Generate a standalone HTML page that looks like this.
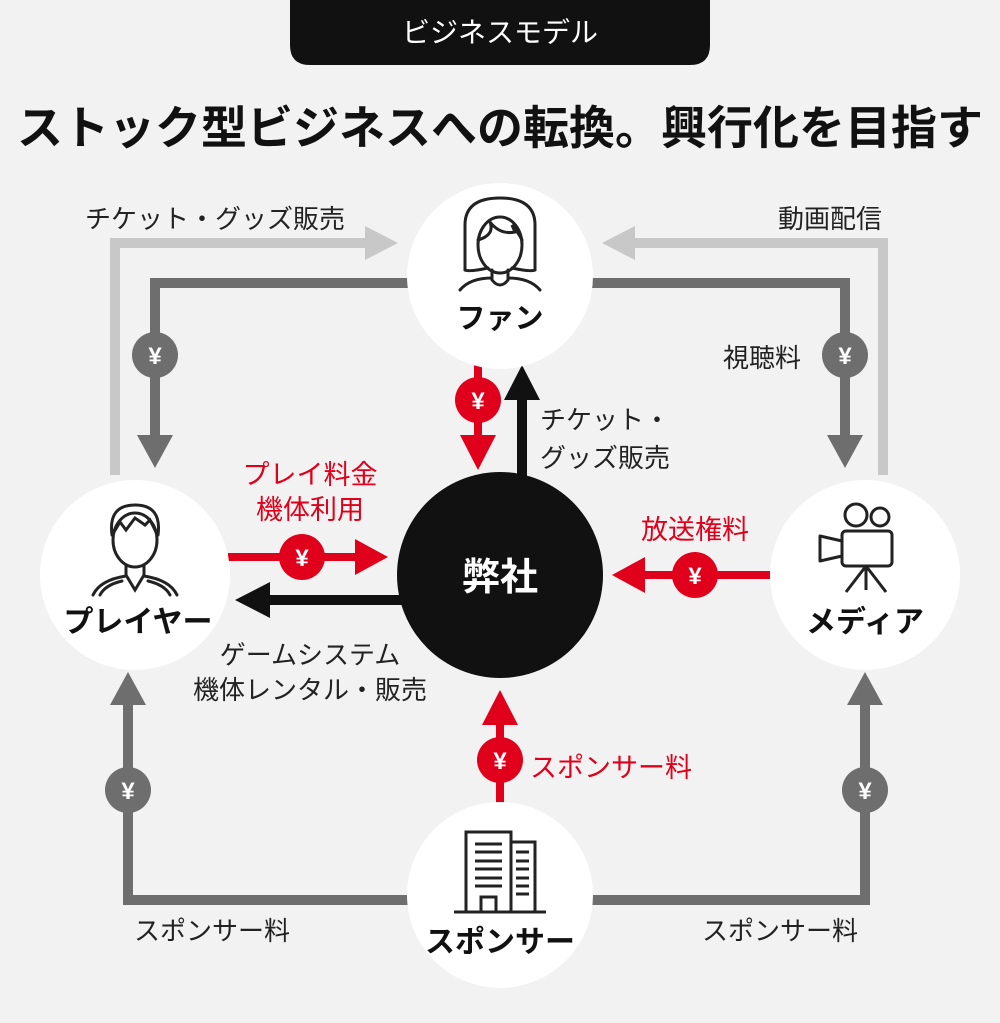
<!DOCTYPE html>
<html><head><meta charset="utf-8"><style>
body{margin:0;background:#f2f2f2;}
svg{display:block;font-family:"Liberation Sans","Noto Sans CJK JP",sans-serif;}
</style></head><body>
<svg width="1000" height="1023" viewBox="0 0 1000 1023" xmlns="http://www.w3.org/2000/svg">
<rect width="1000" height="1023" fill="#f2f2f2"/>
<path d="M290 0H710V45Q710 65 690 65H310Q290 65 290 45Z" fill="#111"/>
<text x="500" y="42" font-size="28" fill="#fff" text-anchor="middle">ビジネスモデル</text>
<text x="500" y="144" font-size="46" font-weight="bold" fill="#111" text-anchor="middle">ストック型ビジネスへの転換。興行化を目指す</text>

<g stroke="#c8c8c8" stroke-width="10" fill="none">
<path d="M115 475V243H370"/><path d="M883 475V243H630"/>
</g>
<polygon points="365,226 398,243 365,260" fill="#c8c8c8"/>
<polygon points="635,226 602,243 635,260" fill="#c8c8c8"/>
<text x="215" y="228" font-size="26" fill="#222" text-anchor="middle">チケット・グッズ販売</text>
<text x="830" y="228" font-size="26" fill="#222" text-anchor="middle">動画配信</text>

<g stroke="#6e6e6e" stroke-width="10" fill="none">
<path d="M410 283H155V440"/><path d="M590 283H845V440"/>
<path d="M410 900H128V700"/><path d="M590 900H865V700"/>
</g>
<g fill="#6e6e6e">
<polygon points="137,435 173,435 155,468"/><polygon points="827,435 863,435 845,468"/>
<polygon points="110,705 146,705 128,672"/><polygon points="847,705 883,705 865,672"/>
<circle cx="155" cy="355" r="23"/><circle cx="845" cy="355" r="23"/>
<circle cx="128" cy="790" r="23"/><circle cx="865" cy="790" r="23"/>
</g>
<text x="762" y="367" font-size="26" fill="#222" text-anchor="middle">視聴料</text>
<text x="212" y="940" font-size="26" fill="#222" text-anchor="middle">スポンサー料</text>
<text x="780" y="940" font-size="26" fill="#222" text-anchor="middle">スポンサー料</text>

<g stroke="#e0001b" stroke-width="8" fill="none">
<path d="M478 360V440"/><path d="M228 557H360"/><path d="M772 575H640"/><path d="M500 805V720"/>
</g>
<g fill="#e0001b">
<polygon points="460,435 496,435 478,470"/>
<polygon points="355,539 355,575 388,557"/>
<polygon points="645,557 645,593 612,575"/>
<polygon points="482,725 518,725 500,690"/>
<circle cx="478" cy="400" r="23"/><circle cx="302" cy="557" r="23"/>
<circle cx="695" cy="575" r="23"/><circle cx="500" cy="760" r="23"/>
</g>
<text x="310" y="484" font-size="27" fill="#e0001b" text-anchor="middle">プレイ料金</text>
<text x="310" y="519" font-size="27" fill="#e0001b" text-anchor="middle">機体利用</text>
<text x="695" y="539" font-size="27" fill="#e0001b" text-anchor="middle">放送権料</text>
<text x="530" y="777" font-size="27" fill="#e0001b">スポンサー料</text>

<path d="M522 480V395" stroke="#111" stroke-width="10"/>
<polygon points="504,400 540,400 522,365" fill="#111"/>
<path d="M405 600H265" stroke="#111" stroke-width="10"/>
<polygon points="270,582 270,618 235,600" fill="#111"/>
<text x="540" y="429" font-size="26" fill="#222">チケット・</text>
<text x="540" y="467" font-size="26" fill="#222">グッズ販売</text>
<text x="310" y="664" font-size="26" fill="#222" text-anchor="middle">ゲームシステム</text>
<text x="310" y="699" font-size="26" fill="#222" text-anchor="middle">機体レンタル・販売</text>

<g fill="#fff" font-size="24" font-weight="bold" text-anchor="middle">
<text x="155" y="364">¥</text><text x="845" y="364">¥</text>
<text x="128" y="799">¥</text><text x="865" y="799">¥</text>
<text x="478" y="409">¥</text><text x="302" y="566">¥</text>
<text x="695" y="584">¥</text><text x="500" y="769">¥</text>
</g>

<g fill="#fff">
<circle cx="500" cy="276" r="93"/><circle cx="135" cy="575" r="95"/>
<circle cx="865" cy="575" r="95"/><circle cx="500" cy="895" r="93"/>
</g>
<circle cx="500" cy="575" r="103" fill="#111"/>
<text x="500" y="590" font-size="38" font-weight="bold" fill="#fff" text-anchor="middle">弊社</text>

<g stroke="#222" stroke-width="3" fill="none" stroke-linecap="round">
<path d="M465 270V225Q465 198 500 198Q535 198 535 225V270Q530 272 512 268"/>
<path d="M488 268Q470 272 465 270"/>
<ellipse cx="500" cy="245" rx="22" ry="28"/>
<path d="M478 240Q495 235 490 222Q500 235 515 232L512 225Q518 232 522 240"/>
<path d="M492 270V280Q500 290 508 280V270"/>
<path d="M460 290Q470 278 492 278M508 278Q530 278 540 290"/>
</g>
<text x="500" y="328" font-size="29" font-weight="bold" fill="#111" text-anchor="middle">ファン</text>

<g stroke="#222" stroke-width="3" fill="none" stroke-linecap="round">
<ellipse cx="135" cy="540" rx="22" ry="27"/>
<path d="M112 535Q108 505 135 505Q162 505 158 535"/>
<path d="M114 532L120 522L126 530L135 518L145 525L150 520L156 532"/>
<path d="M126 565V575L135 590L144 575V565"/>
<path d="M93 595Q100 580 126 576M144 576Q170 580 177 595"/>
<path d="M100 595Q105 585 122 581M148 581Q165 585 170 595"/>
</g>
<text x="138" y="632" font-size="30" font-weight="bold" fill="#111" text-anchor="middle">プレイヤー</text>

<g stroke="#222" stroke-width="3" fill="none" stroke-linejoin="round">
<circle cx="856" cy="515" r="11"/><circle cx="880" cy="517" r="9"/>
<rect x="842" y="531" width="50" height="35" rx="4"/>
<path d="M842 541L820 536V561L842 556"/>
<path d="M866 566V590M866 566L846 592M866 566L886 592"/>
</g>
<text x="865" y="632" font-size="30" font-weight="bold" fill="#111" text-anchor="middle">メディア</text>

<g stroke="#222" stroke-width="3" fill="none">
<path d="M466 911V832H511V911M511 842H535V911"/>
<path d="M454 912H546"/>
<path d="M481 911V897H496V911"/>
<path d="M475 844H502M475 852H502M475 861H502M475 869H502M475 878H502M475 886H502"/>
<path d="M516 852H529M516 861H529M516 869H529M516 878H529M516 886H529M516 894H529"/>
</g>
<text x="500" y="952" font-size="30" font-weight="bold" fill="#111" text-anchor="middle">スポンサー</text>
</svg>
</body></html>
